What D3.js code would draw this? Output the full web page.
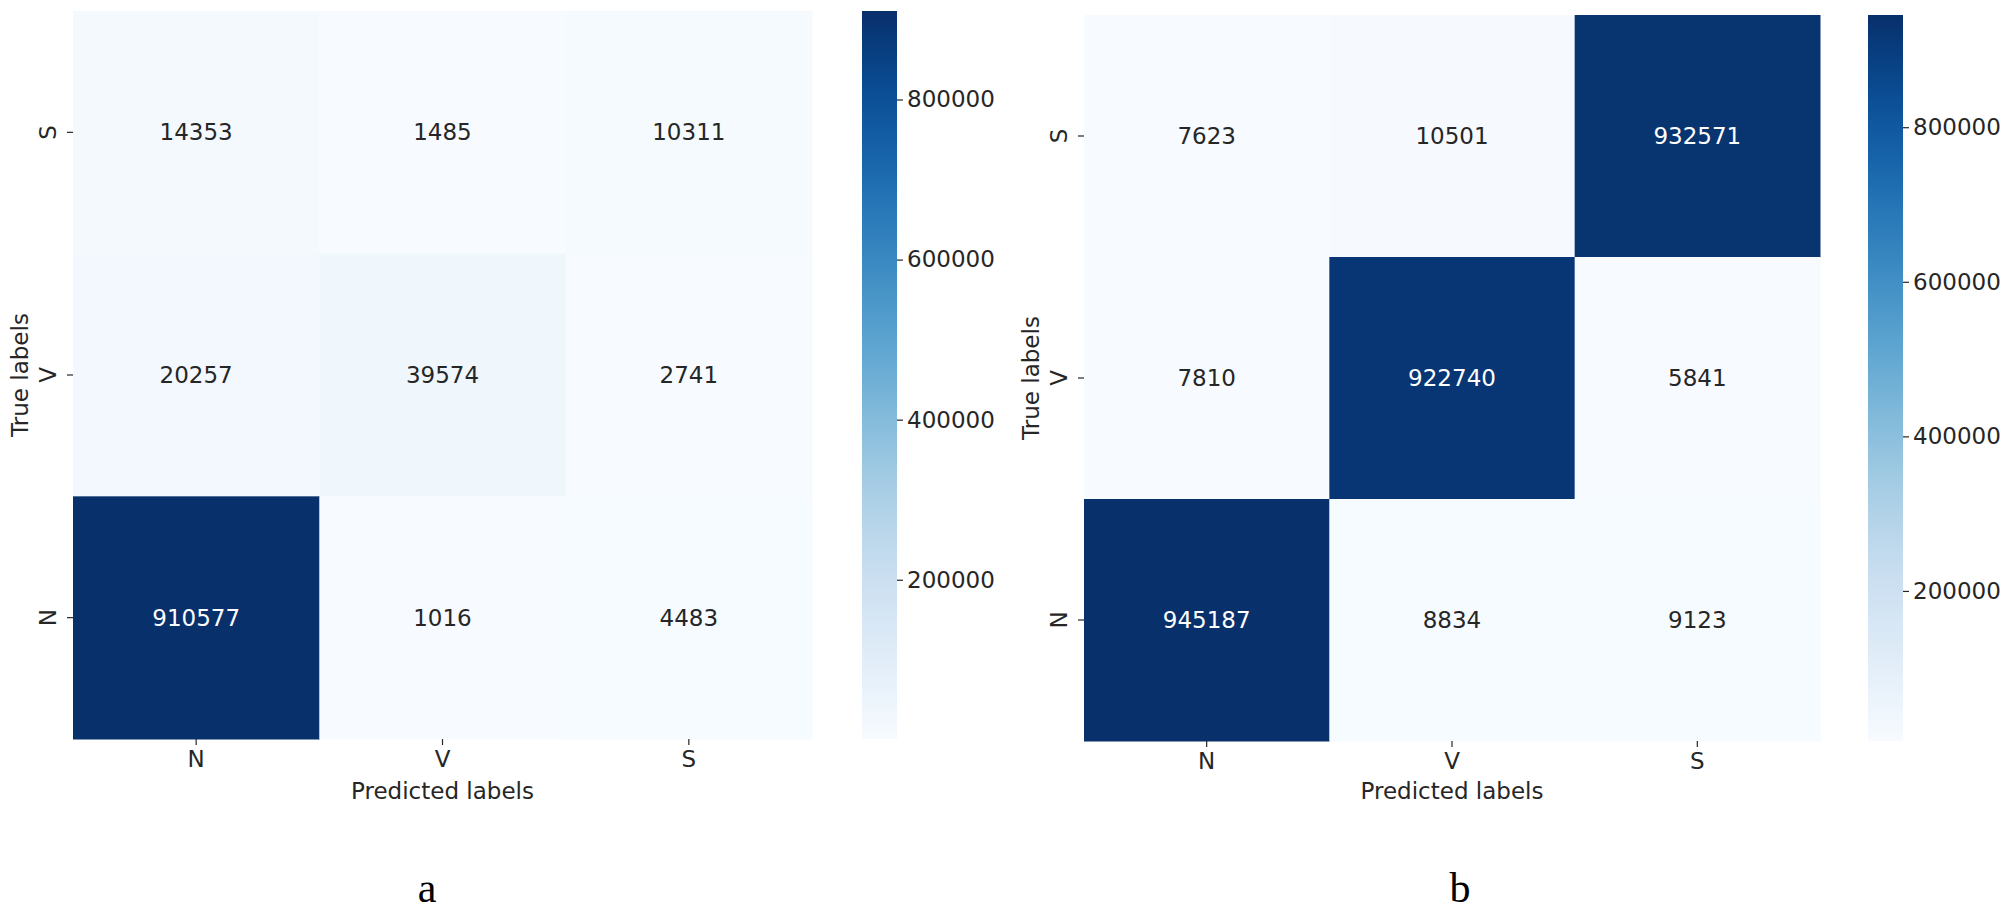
<!DOCTYPE html>
<html>
<head>
<meta charset="utf-8">
<script src="https://cdn.jsdelivr.net/npm/d3@7"></script>
<style>
  html, body { margin: 0; padding: 0; background: #ffffff; }
  svg { display: block; }
  text.sans { font-family: "DejaVu Sans", sans-serif; }
  text.serif { font-family: "Liberation Serif", "Times New Roman", serif; }
</style>
</head>
<body>
<svg id="chart" width="2007" height="910"></svg>
<script>
// ---- data ----
const predictedLabels = ["N", "V", "S"];       // columns (x)
const trueLabels = ["S", "V", "N"];            // rows, top to bottom (y)
const matrixA = [
  [14353, 1485, 10311],
  [20257, 39574, 2741],
  [910577, 1016, 4483]
];
const matrixB = [
  [7623, 10501, 932571],
  [7810, 922740, 5841],
  [945187, 8834, 9123]
];
const colorbarTicks = [200000, 400000, 600000, 800000];
const panelLetters = ["a", "b"];
const xTitle = "Predicted labels";
const yTitle = "True labels";

// ---- layout ----
const panels = [
  { m: matrixA, x0: 73, x1: 812, y0: 11, y1: 739, cb0: 862, cb1: 897, letterX: 427, letter: panelLetters[0], id: "ga" },
  { m: matrixB, x0: 1084, x1: 1820, y0: 15, y1: 741, cb0: 1868, cb1: 1903, letterX: 1460, letter: panelLetters[1], id: "gb" }
];

const svg = d3.select("#chart");
const defs = svg.append("defs");
const tickColor = "#262626";

panels.forEach(p => {
  const flat = p.m.flat();
  const vmin = d3.min(flat), vmax = d3.max(flat);
  const color = d3.scaleSequential(d3.interpolateBlues).domain([vmin, vmax]);

  const x = d3.scaleBand().domain(predictedLabels).range([p.x0, p.x1]);
  const y = d3.scaleBand().domain(trueLabels).range([p.y0, p.y1]);

  const g = svg.append("g");

  const cells = [];
  trueLabels.forEach((r, i) => predictedLabels.forEach((c, j) => cells.push({ r, c, v: p.m[i][j] })));

  g.selectAll("rect.cell").data(cells).join("rect")
    .attr("class", "cell")
    .attr("x", d => x(d.c))
    .attr("y", d => y(d.r))
    .attr("width", x.bandwidth() + 0.5)
    .attr("height", y.bandwidth() + 0.5)
    .attr("fill", d => color(d.v));

  g.selectAll("text.annot").data(cells).join("text")
    .attr("class", "annot sans")
    .attr("x", d => x(d.c) + x.bandwidth() / 2)
    .attr("y", d => y(d.r) + y.bandwidth() / 2)
    .attr("text-anchor", "middle")
    .attr("dominant-baseline", "central")
    .attr("font-size", 23)
    .attr("fill", d => (d3.lab(color(d.v)).l < 50) ? "#ffffff" : tickColor)
    .text(d => d.v);

  // x axis
  const xAxis = d3.axisBottom(x).tickSize(6).tickPadding(6);
  const gx = g.append("g").attr("transform", `translate(0,${p.y1})`).call(xAxis);
  gx.select(".domain").remove();
  gx.selectAll("line").attr("stroke", tickColor).attr("stroke-width", 1.2);
  gx.selectAll("text").attr("class", "sans").attr("font-size", 23).attr("fill", tickColor);

  // y axis (rotated tick labels)
  const yAxis = d3.axisLeft(y).tickSize(6).tickFormat("");
  const gy = g.append("g").attr("transform", `translate(${p.x0},0)`).call(yAxis);
  gy.select(".domain").remove();
  gy.selectAll("line").attr("stroke", tickColor).attr("stroke-width", 1.2);
  g.selectAll("text.ylab").data(trueLabels).join("text")
    .attr("class", "ylab sans")
    .attr("transform", d => `translate(${p.x0 - 25},${y(d) + y.bandwidth() / 2}) rotate(-90)`)
    .attr("text-anchor", "middle")
    .attr("dominant-baseline", "central")
    .attr("font-size", 23)
    .attr("fill", tickColor)
    .text(d => d);

  // titles
  g.append("text")
    .attr("class", "sans")
    .attr("x", (p.x0 + p.x1) / 2)
    .attr("y", 799)
    .attr("text-anchor", "middle")
    .attr("font-size", 23)
    .attr("fill", tickColor)
    .text(xTitle);
  g.append("text")
    .attr("class", "sans")
    .attr("transform", `translate(${p.x0 - 53},${(p.y0 + p.y1) / 2}) rotate(-90)`)
    .attr("text-anchor", "middle")
    .attr("dominant-baseline", "central")
    .attr("font-size", 23)
    .attr("fill", tickColor)
    .text(yTitle);

  // colorbar
  const cbScale = d3.scaleLinear().domain([vmin, vmax]).range([p.y1, p.y0]);
  const gradId = "grad-" + p.id;
  const grad = defs.append("linearGradient").attr("id", gradId)
    .attr("x1", 0).attr("y1", 1).attr("x2", 0).attr("y2", 0);
  d3.range(0, 1.0001, 0.02).forEach(t => {
    grad.append("stop").attr("offset", t).attr("stop-color", d3.interpolateBlues(t));
  });
  g.append("rect")
    .attr("x", p.cb0)
    .attr("y", cbScale(vmax))
    .attr("width", p.cb1 - p.cb0)
    .attr("height", cbScale(vmin) - cbScale(vmax))
    .attr("fill", `url(#${gradId})`);
  const cbAxis = d3.axisRight(cbScale).tickValues(colorbarTicks).tickSize(6).tickPadding(4).tickFormat(d3.format("d"));
  const gc = g.append("g").attr("transform", `translate(${p.cb1},0)`).call(cbAxis);
  gc.select(".domain").remove();
  gc.selectAll("line").attr("stroke", tickColor).attr("stroke-width", 1.2);
  gc.selectAll("text").attr("class", "sans").attr("font-size", 23).attr("fill", tickColor);

  // panel letter
  svg.append("text")
    .attr("class", "serif")
    .attr("x", p.letterX)
    .attr("y", 902)
    .attr("text-anchor", "middle")
    .attr("font-size", 42)
    .attr("fill", "#000000")
    .text(p.letter);
});
</script>
</body>
</html>
